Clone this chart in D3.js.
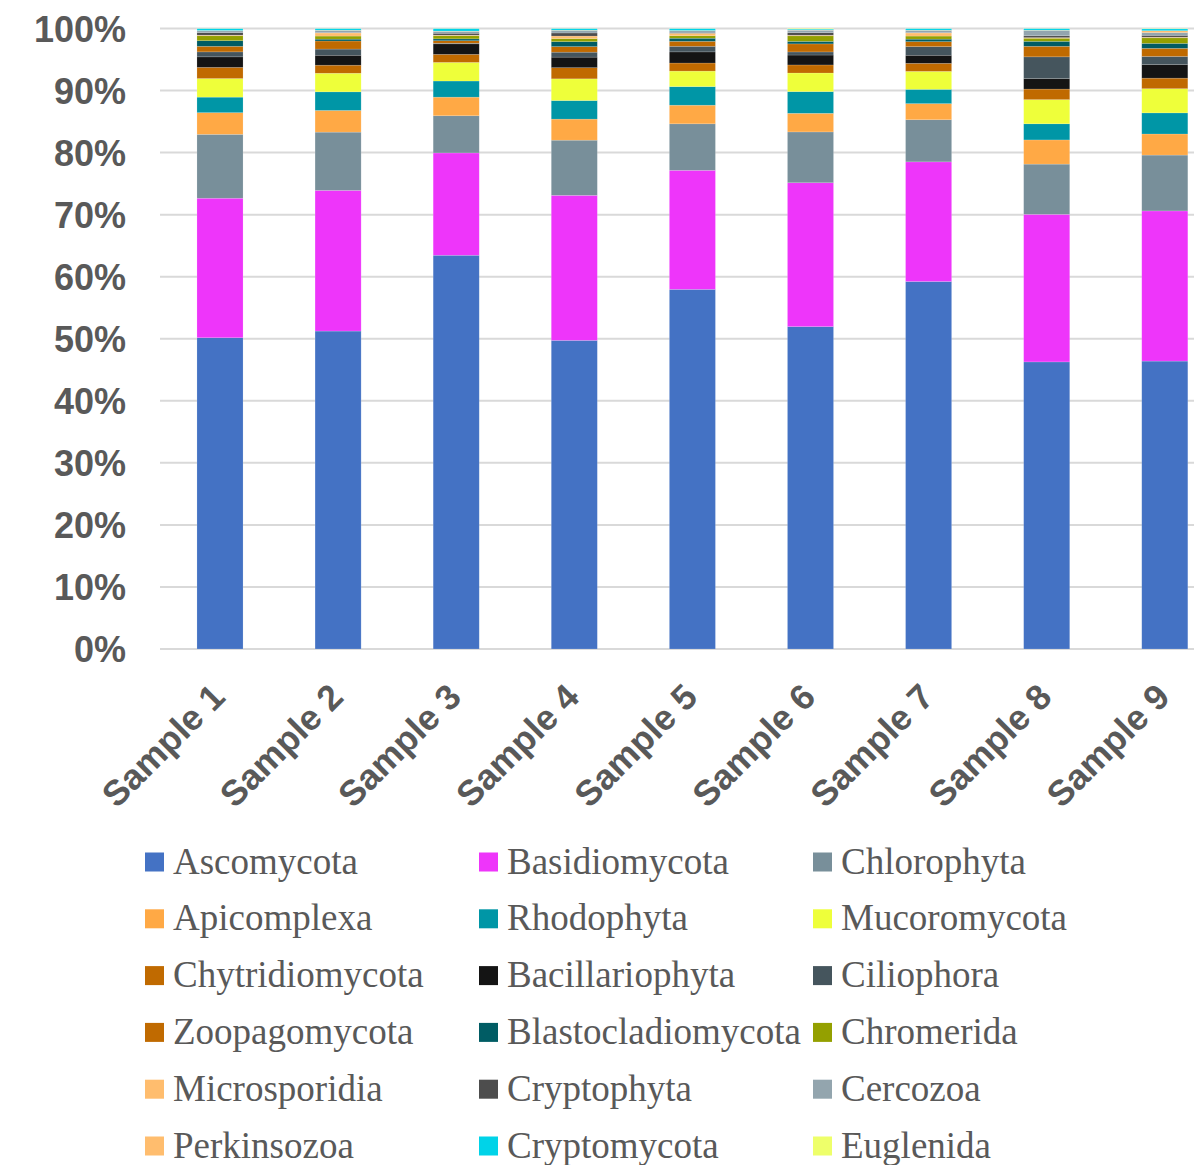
<!DOCTYPE html>
<html>
<head>
<meta charset="utf-8">
<script src="https://cdn.jsdelivr.net/npm/d3@7"></script>
<style>
    body { margin: 0; background: #fff; }
    svg { display: block; }
</style>
</head>
<body>
<svg id="chart-svg" width="1194" height="1165"></svg>
<script>
// Samples on the x axis.
const samples = ['Sample 1', 'Sample 2', 'Sample 3', 'Sample 4', 'Sample 5', 'Sample 6', 'Sample 7', 'Sample 8', 'Sample 9'];

// Relative abundance (%) of each phylum, one value per sample.
const ascomycota         = [50.2, 51.3, 63.5, 49.8, 58.0, 52.0, 59.3, 46.3, 46.4];
const basidiomycota      = [22.5, 22.7, 16.5, 23.4, 19.2, 23.2, 19.3, 23.8, 24.2];
const chlorophyta        = [10.3, 9.4, 6.0, 8.9, 7.5, 8.2, 6.8, 8.1, 9.0];
const apicomplexa        = [3.5, 3.5, 3.0, 3.4, 3.0, 3.0, 2.6, 3.9, 3.4];
const rhodophyta         = [2.5, 3.0, 2.6, 3.0, 3.0, 3.5, 2.3, 2.6, 3.4];
const mucoromycota       = [3.0, 3.0, 3.0, 3.5, 2.5, 3.0, 2.9, 3.9, 3.9];
const chytridiomycota    = [1.8, 1.3, 1.3, 1.8, 1.3, 1.3, 1.3, 1.7, 1.7];
const bacillariophyta    = [1.7, 1.6, 1.7, 1.7, 1.8, 1.6, 1.3, 1.7, 2.2];
const ciliophora         = [0.8, 1.0, 0.1, 0.8, 0.9, 0.5, 1.4, 3.5, 1.3];
const zoopagomycota      = [0.9, 1.3, 0.4, 0.9, 0.8, 1.3, 0.8, 1.7, 1.3];
const blastocladiomycota = [0.9, 0.3, 0.3, 0.8, 0.5, 0.4, 0.4, 0.8, 0.8];
const chromerida         = [0.8, 0.5, 0.5, 0.5, 0.4, 0.9, 0.5, 0.5, 0.9];
const microsporidia      = [0.1, 0.5, 0.1, 0.4, 0.4, 0.1, 0.5, 0.1, 0.1];
const cryptophyta        = [0.4, 0.05, 0.3, 0.5, 0.05, 0.4, 0.05, 0.3, 0.3];
const cercozoa           = [0.3, 0.35, 0.3, 0.4, 0.35, 0.4, 0.35, 0.85, 0.45];
const perkinsozoa        = [0.05, 0.05, 0.05, 0.05, 0.05, 0.03, 0.05, 0.05, 0.3];
const cryptomycota       = [0.3, 0.25, 0.4, 0.25, 0.3, 0.15, 0.25, 0.25, 0.3];
const euglenida          = [0.02, 0.02, 0.02, 0.02, 0.02, 0.1, 0.02, 0.02, 0.05];

// Phylum names, stacking order (bottom to top) and legend order.
const phyla = ['Ascomycota', 'Basidiomycota', 'Chlorophyta', 'Apicomplexa', 'Rhodophyta', 'Mucoromycota',
    'Chytridiomycota', 'Bacillariophyta', 'Ciliophora', 'Zoopagomycota', 'Blastocladiomycota', 'Chromerida',
    'Microsporidia', 'Cryptophyta', 'Cercozoa', 'Perkinsozoa', 'Cryptomycota', 'Euglenida'];
const phylumValues = [ascomycota, basidiomycota, chlorophyta, apicomplexa, rhodophyta, mucoromycota,
    chytridiomycota, bacillariophyta, ciliophora, zoopagomycota, blastocladiomycota, chromerida,
    microsporidia, cryptophyta, cercozoa, perkinsozoa, cryptomycota, euglenida];
const phylumColors = ['#4472C4', '#EE35FA', '#788F9A', '#FFA945', '#0096A6', '#EEFF3A',
    '#C06A00', '#141414', '#45555D', '#C06A00', '#005C64', '#94A000',
    '#FFBD6E', '#4D4D4D', '#93A5AE', '#FFBD6E', '#00D3E8', '#EEFF6A'];

// Y axis tick values.
const yTicks = [0, 0.1, 0.2, 0.3, 0.4, 0.5, 0.6, 0.7, 0.8, 0.9, 1.0];

// Build rows for d3.stack.
let rows = samples.map(function(s, i) {
    let row = {sample: s};
    phyla.forEach(function(p, j) {
        row[p] = phylumValues[j][i];
    });
    return row;
});

let colorScale = d3.scaleOrdinal().domain(phyla).range(phylumColors);

let svg = d3.select('#chart-svg');
let textColor = '#595959';

// Scales
let step = 118.1;
let xScale = d3.scaleBand()
    .domain(samples)
    .range([220 - step / 2, 220 + step * (samples.length - 0.5)])
    .paddingInner(0.61)
    .paddingOuter(0.305);

let yScale = d3.scaleLinear()
    .domain([0, 1])
    .range([649, 28.5]);

// Gridlines
svg.append('g')
    .attr('id', 'g-grid')
    .selectAll('line')
    .data(yTicks)
    .join('line')
    .attr('x1', 160)
    .attr('x2', 1194)
    .attr('y1', d => yScale(d))
    .attr('y2', d => yScale(d))
    .attr('stroke', '#D9D9D9')
    .attr('stroke-width', 2);

// Y axis labels
let yAxis = d3.axisLeft(yScale)
    .tickValues(yTicks)
    .tickFormat(d3.format('.0%'))
    .tickSize(0)
    .tickPadding(0);

let gY = svg.append('g')
    .attr('id', 'g-yAxis')
    .attr('transform', 'translate(126,0)')
    .call(yAxis);
gY.select('.domain').remove();
gY.selectAll('text')
    .attr('fill', textColor)
    .attr('font-family', '"Liberation Sans", Arial, sans-serif')
    .attr('font-weight', 'bold')
    .attr('font-size', 36)
    .attr('dy', '0.35em');

// Stacked bars
let stack = d3.stack()
    .keys(phyla)
    .offset(d3.stackOffsetExpand);
let seriesData = stack(rows);

svg.append('g')
    .attr('id', 'g-bars')
    .selectAll('g')
    .data(seriesData)
    .join('g')
    .attr('fill', d => colorScale(d.key))
    .selectAll('rect')
    .data(d => d)
    .join('rect')
    .attr('x', d => xScale(d.data.sample))
    .attr('width', xScale.bandwidth())
    .attr('y', d => yScale(d[1]))
    .attr('height', d => Math.max(0, yScale(d[0]) - yScale(d[1])))
    .attr('stroke', '#ffffff')
    .attr('stroke-opacity', 0.25)
    .attr('stroke-width', 0.6);

// X axis labels, rotated
let xAxis = d3.axisBottom(xScale).tickSize(0).tickPadding(0);
let gX = svg.append('g')
    .attr('id', 'g-xAxis')
    .attr('transform', 'translate(0,649)')
    .call(xAxis);
gX.select('.domain').remove();
gX.selectAll('text')
    .attr('fill', textColor)
    .attr('font-family', '"Liberation Sans", Arial, sans-serif')
    .attr('font-weight', 'bold')
    .attr('font-size', 35.5)
    .attr('dy', 0)
    .attr('y', 0)
    .attr('text-anchor', 'end')
    .attr('transform', 'translate(7,50) rotate(-45)');

// Legend: three columns, six rows.
let legendCols = [145, 479, 813];
let legend = svg.append('g')
    .attr('id', 'g-legend')
    .selectAll('g')
    .data(phyla)
    .join('g')
    .attr('transform', (d, i) => 'translate(' + legendCols[i % 3] + ',' + (862 + Math.floor(i / 3) * 56.8) + ')');

legend.append('rect')
    .attr('x', 0)
    .attr('y', -9.5)
    .attr('width', 19)
    .attr('height', 19)
    .attr('fill', d => colorScale(d));

legend.append('text')
    .attr('x', 28)
    .attr('y', 11.5)
    .attr('fill', textColor)
    .attr('font-family', '"Liberation Serif", "Times New Roman", serif')
    .attr('font-size', 37)
    .text(d => d);
</script>
</body>
</html>
